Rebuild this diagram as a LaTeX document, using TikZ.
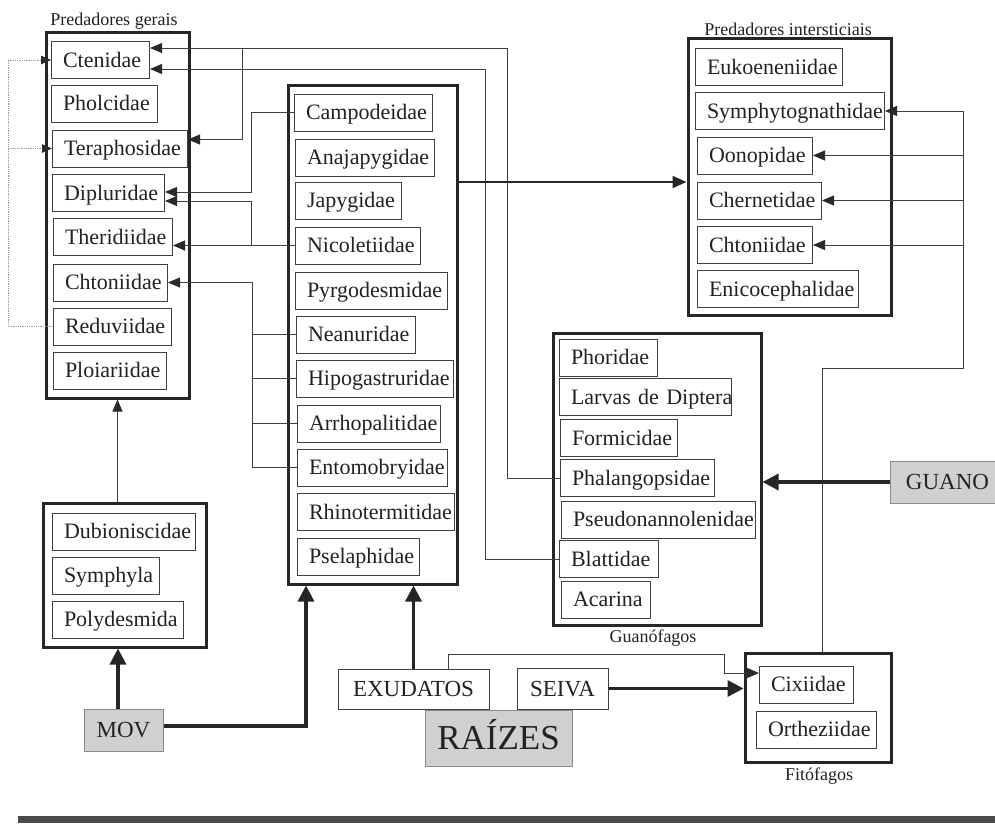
\documentclass[tikz,border=0pt]{standalone}
\usepackage{fontspec}
\setmainfont{Liberation Serif}
\usetikzlibrary{arrows.meta,calc}
\definecolor{txt}{HTML}{222222}
\definecolor{lin}{HTML}{404040}
\definecolor{tipc}{HTML}{2A2A2A}
\definecolor{outc}{HTML}{262626}
\definecolor{grayfill}{HTML}{D0D0D0}
\definecolor{grayedge}{HTML}{8A8A8A}
\definecolor{dotc}{HTML}{9A9A9A}
\definecolor{barc}{HTML}{4A4A4A}
\newcommand\fsA{\fontsize{22}{26}\selectfont}
\newcommand\fsT{\fontsize{18}{21}\selectfont}
\newcommand\fsS{\fontsize{23}{27}\selectfont}
\newcommand\fsR{\fontsize{35}{40}\selectfont}
\newcommand\famnode[5]{\node[fb, text width=#4pt] (#1) at (#2,#3) {\noindent\hspace*{11.5pt}\mbox{#5}};}
\tikzset{
  fb/.style={draw=lin, line width=1pt, anchor=west, minimum height=37pt, inner xsep=0pt, inner ysep=0pt,
    align=left, font=\fsA, text=txt, text height=15pt, text depth=0.5pt},
  grpbox/.style={draw=outc, line width=3pt, inner sep=0pt},
  srcbox/.style={draw=lin, line width=1pt, inner sep=0pt, font=\fsS, text=txt, text height=15.5pt, text depth=0.5pt},
  gsrc/.style={srcbox, fill=grayfill, draw=grayedge},
  ttl/.style={font=\fsT, text=txt, inner sep=0pt},
  conn/.style={draw=lin, line width=0.9pt, -{Triangle[length=12pt,width=10pt,color=tipc,fill=tipc]}},
  plainl/.style={draw=lin, line width=0.9pt},
  dotl/.style={draw=dotc, line width=0.8pt, densely dotted, -{Triangle[length=10pt,width=8.5pt,color=tipc,fill=tipc]}},
  thk/.style={draw=outc, line width=3.3pt, -{Triangle[length=16pt,width=16pt]}},
  med/.style={draw=outc, line width=2pt, -{Triangle[length=14pt,width=12pt]}},
}
\begin{document}
\begin{tikzpicture}[x=1pt,y=-1pt]
\clip (0,0) rectangle (995,823);
\fill[white] (0,0) rectangle (995,823);

% group boxes
\node[grpbox, minimum width=143pt, minimum height=366pt] (gerais) at (117.5,215) {};
\node[grpbox, minimum width=169pt, minimum height=499pt] (mid) at (372.5,334.5) {};
\node[grpbox, minimum width=203pt, minimum height=277pt] (inter) at (789.5,176.5) {};
\node[grpbox, minimum width=208pt, minimum height=292pt] (guan) at (657,479) {};
\node[grpbox, minimum width=163pt, minimum height=144pt] (bl) at (124.5,575) {};
\node[grpbox, minimum width=146pt, minimum height=109pt] (fit) at (818,707.5) {};

% titles
\node[ttl] (tg) at (114,21) {Predadores gerais};
\node[ttl] (ti) at (788,29) {Predadores intersticiais};
\node[ttl] (tgu) at (653,638) {Guanófagos};
\node[ttl] (tfi) at (819,776) {Fitófagos};

% Predadores gerais
\famnode{ct}{51}{60}{98}{Ctenidae}
\famnode{ph}{51}{103.5}{106}{Pholcidae}
\famnode{te}{52}{148.5}{135}{Teraphosidae}
\famnode{di}{52}{193}{112}{Dipluridae}
\famnode{th}{53}{237}{119}{Theridiidae}
\famnode{ch}{53}{282.5}{114}{Chtoniidae}
\famnode{re}{53}{326.5}{118}{Reduviidae}
\famnode{pl}{53}{370.5}{113}{Ploiariidae}

% middle
\famnode{ca}{294}{112.5}{138}{Campodeidae}
\famnode{an}{295}{157.5}{139}{Anajapygidae}
\famnode{ja}{295}{200.5}{106}{Japygidae}
\famnode{ni}{295}{245.5}{125}{Nicoletiidae}
\famnode{py}{295}{290.5}{152}{Pyrgodesmidae}
\famnode{ne}{296}{334.5}{119}{Neanuridae}
\famnode{hi}{296}{378.5}{157}{Hipogastruridae}
\famnode{ar}{297}{423.5}{143}{Arrhopalitidae}
\famnode{en}{297}{467.5}{150}{Entomobryidae}
\famnode{rh}{297}{512}{157}{Rhinotermitidae}
\famnode{ps}{297}{556.5}{122}{Pselaphidae}

% intersticiais
\famnode{eu}{695}{67}{147}{Eukoeneniidae}
\famnode{sy}{695}{111}{189}{Symphytognathidae}
\famnode{oo}{697}{155.5}{115}{Oonopidae}
\famnode{chn}{697}{200.5}{124}{Chernetidae}
\famnode{cht}{697}{245}{115}{Chtoniidae}
\famnode{enc}{697}{289}{161}{Enicocephalidae}

% guanofagos
\famnode{pho}{559}{357.5}{98}{Phoridae}
\famnode{lar}{559}{397}{172}{Larvas de Diptera}
\famnode{for}{560}{438}{117}{Formicidae}
\famnode{pha}{560}{478}{154}{Phalangopsidae}
\famnode{pse}{561}{519.5}{194}{Pseudonannolenidae}
\famnode{bla}{559}{559}{99}{Blattidae}
\famnode{aca}{561}{599.5}{89}{Acarina}

% bottom-left
\famnode{du}{52}{531.5}{143}{Dubioniscidae}
\famnode{sym}{52}{575.5}{107}{Symphyla}
\famnode{pol}{52}{619.5}{131}{Polydesmida}

% fitofagos
\famnode{ci}{759}{684.5}{94}{Cixiidae}
\famnode{or}{756}{729.5}{120}{Ortheziidae}

% sources
\node[gsrc, minimum width=147pt, minimum height=56pt, font=\fsR, text height=23.5pt] (ra) at (498.5,738) {RAÍZES};
\node[gsrc, minimum width=79pt, minimum height=42pt] (mov) at (123.5,730) {MOV};
\node[srcbox, fill=white, minimum width=151pt, minimum height=40pt] (ex) at (413.5,689) {EXUDATOS};
\node[srcbox, fill=white, minimum width=91pt, minimum height=41pt] (se) at (562.5,688.5) {SEIVA};
\node[gsrc, minimum width=115pt, minimum height=42pt] (gu) at (947.5,482) {GUANO};

% coordinates for bends
\coordinate (k1) at (507,48);
\coordinate (k2) at (242,48);
\coordinate (k3) at (485,69);
\coordinate (k4) at (251,112.5);
\coordinate (k5) at (251,245.5);
\coordinate (k6) at (252,282.5);
\coordinate (k7) at (822,368);
\coordinate (k9) at (963,111);
\coordinate (k10) at (724,654);
\coordinate (d1) at (8,60);

% connectors to Predadores gerais
\draw[conn] (pha.west) -| (k1) -- ([yshift=12pt]ct.east);
\draw[conn] (k2) |- ([yshift=9pt]te.east);
\draw[conn] (bla.west) -| (k3) -- ([yshift=-9pt]ct.east);
\draw[conn] (ca.west) -- (k4) |- ([yshift=1pt]di.east);
\draw[conn] (ni.west) -- (ni.west -| th.east);
\draw[conn] (k5) |- ([yshift=-8pt]di.east);
\draw[conn] (en.west) -| (k6) -- (ch.east);
\draw[plainl] (ne.west) -- (ne.west -| k6);
\draw[plainl] (hi.west) -- (hi.west -| k6);
\draw[plainl] (ar.west) -- (ar.west -| k6);

% dotted
\draw[dotl] (re.west) -| (d1) -- (ct.west);
\draw[dotl] (d1 |- te.west) -- (te.west);

% right side
\draw[conn] (k7 |- fit.north) -- (k7) -| (k9) -- (sy.east);
\draw[conn] (k9 |- oo.east) -- (oo.east);
\draw[conn] (k9 |- chn.east) -- (chn.east);
\draw[conn] (k9 |- cht.east) -- (cht.east);

% exudatos to cixiidae
\draw[conn] ([xshift=34.5pt]ex.north) |- (k10) |- ([yshift=11.5pt]ci.west);

% thick arrows
\draw[thk] (se.east) -- (se.east -| fit.west);
\draw[thk] (gu.west) -- (gu.west -| guan.east);
\draw[thk] ([xshift=-5.5pt]mov.north) -- ([xshift=-5.5pt]mov.north |- bl.south);
\draw[thk] ([yshift=4pt]mov.east) -| ([xshift=-66.5pt]mid.south);
\draw[thk] (ex.north) -- (ex.north |- mid.south);
\draw[med] ([yshift=152.5pt]mid.east) coordinate (m1) -- (m1 -| inter.west);
\draw[conn] (gerais.south |- bl.north) -- (gerais.south);

% bottom bar
\fill[barc] (18,816) rectangle (995,823);
\end{tikzpicture}
\end{document}
